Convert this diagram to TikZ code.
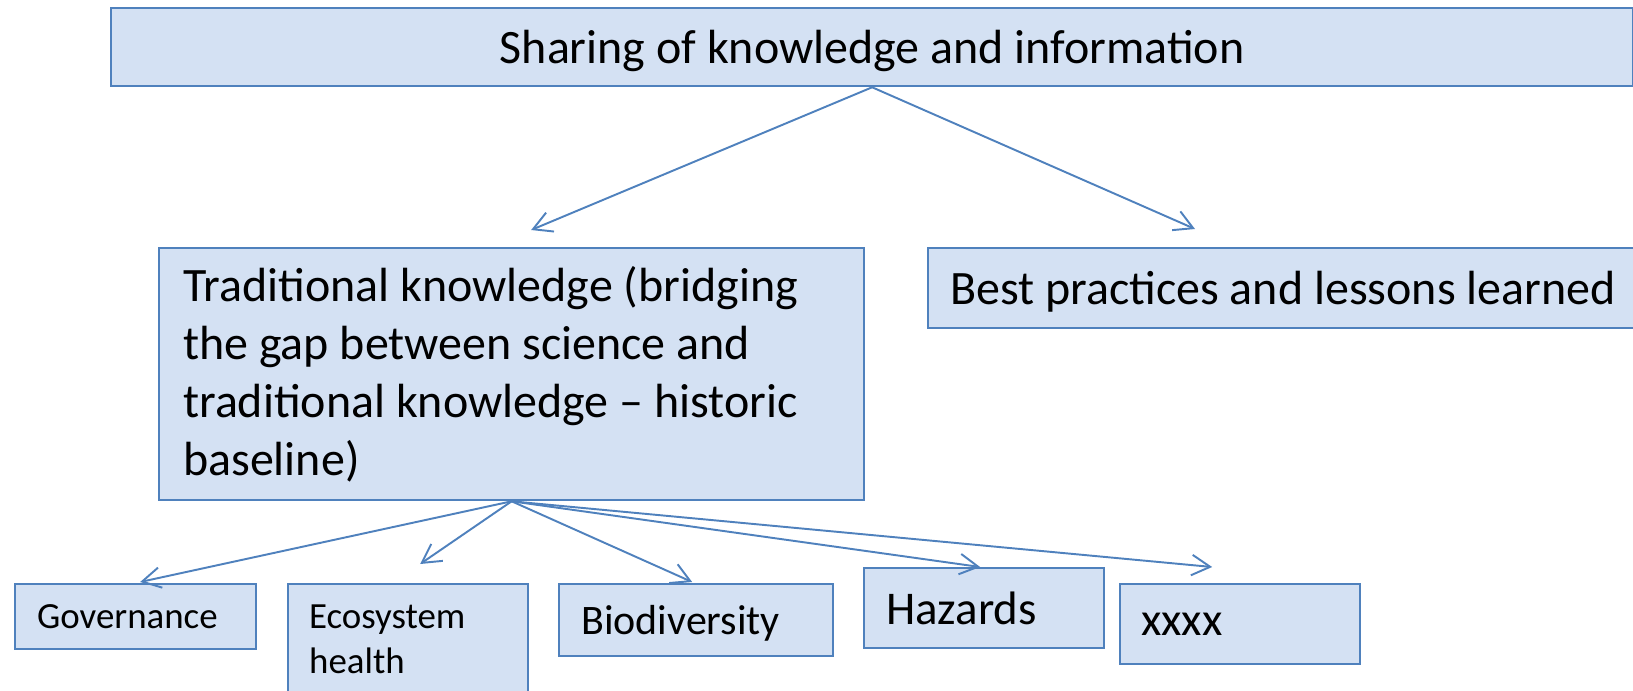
\documentclass[tikz,border=0pt]{standalone}
\usepackage{fontspec}
\setmainfont{Carlito}
\usetikzlibrary{arrows.meta}

\definecolor{boxline}{RGB}{79,129,189}
\definecolor{boxfill}{RGB}{212,225,243}

\newcommand\fontL{\fontsize{27.3}{33}\selectfont}
\newcommand\fontH{\fontsize{26.7}{32}\selectfont}
\newcommand\fontM{\fontsize{23.9}{29}\selectfont}
\newcommand\fontS{\fontsize{21}{25.6}\selectfont}

\tikzset{
  box/.style={draw=boxline, line width=1.3pt, fill=boxfill, anchor=north west,
    inner ysep=0pt, inner xsep=0.44cm, align=flush left},
  oneline/.style={box, text depth=0pt},
  link/.style={draw=boxline, line width=1.1pt,
    -{Straight Barb[length=0.37cm,width=0.41cm]}},
}

\begin{document}
\begin{tikzpicture}
        \clip (0,0) rectangle (32.66,-13.8);

        \node[oneline, minimum width=30.44cm, minimum height=1.56cm, align=center, font=\fontL] (share) at (2.2,-0.14) {Sharing of knowledge and information};

        \node[box, text width=13.14cm, inner xsep=0.48cm, minimum height=5.04cm, font=\fontL] (trad) at (3.16,-4.94)
          {Traditional knowledge (bridging\\ the gap between science and\\ traditional knowledge – historic\\ baseline)};
        \node[oneline, text width=13.8cm, minimum height=1.6cm, font=\fontL] (best) at (18.54,-4.94) {Best practices and lessons learned};

        \node[oneline, text width=3.94cm, minimum height=1.3cm, font=\fontS] (gov) at (0.28,-11.66) {Governance};
        \node[box, text width=3.96cm, inner xsep=0.42cm, minimum height=2.22cm, font=\fontS] (eco) at (5.74,-11.66) {Ecosystem\\ health};
        \node[oneline, text width=4.6cm, minimum height=1.44cm, font=\fontM] (bio) at (11.16,-11.66) {Biodiversity};
        \node[oneline, text width=3.92cm, minimum height=1.6cm, font=\fontH] (haz) at (17.26,-11.34) {Hazards};
        \node[oneline, text width=3.96cm, inner xsep=0.42cm, minimum height=1.6cm, font=\fontH] (misc) at (22.38,-11.66) {xxxx};

        \draw[link] (share.south) -- ([shift={(0.39,0.34)}]trad.north);
        \draw[link] (share.south) -- ([shift={(5.36,0.36)}]best.north west);

        \foreach \n/\dx/\dy in {gov/0.09/0.02, eco/0.24/0.38, bio/-0.08/0.02, haz/-0.08/0, misc/-0.56/0.32} {
          \draw[link] (trad.south) -- ([shift={(\dx,\dy)}]\n.north);
        }
      \end{tikzpicture}
\end{document}
